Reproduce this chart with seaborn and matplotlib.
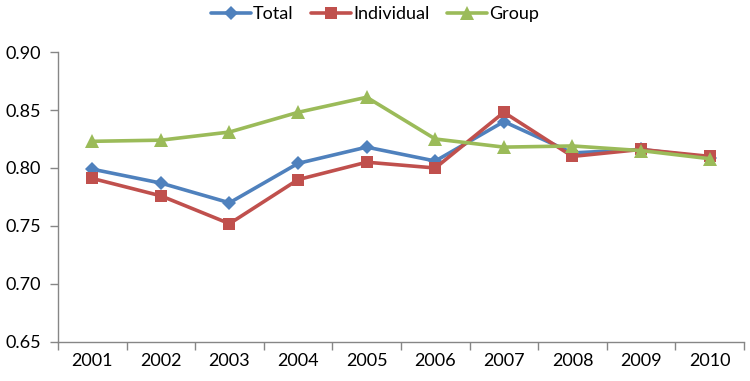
import pandas as pd
import matplotlib
matplotlib.use('Agg')
import matplotlib.pyplot as plt
import seaborn as sns

# data
years = ['2001', '2002', '2003', '2004', '2005', '2006', '2007', '2008', '2009', '2010']
total = [0.799, 0.787, 0.770, 0.804, 0.818, 0.806, 0.840, 0.813, 0.816, 0.809]
individual = [0.791, 0.776, 0.752, 0.790, 0.805, 0.800, 0.848, 0.810, 0.816, 0.810]
group = [0.823, 0.824, 0.831, 0.848, 0.861, 0.825, 0.818, 0.819, 0.815, 0.808]
y_ticks = [0.65, 0.70, 0.75, 0.80, 0.85, 0.90]

series = ['Total', 'Individual', 'Group']
colors = {'Total': '#4F81BD', 'Individual': '#C0504D', 'Group': '#9BBB59'}
markers = {'Total': 'D', 'Individual': 's', 'Group': '^'}
msizes = {'Total': 7.5, 'Individual': 8, 'Group': 9.5}

df = pd.DataFrame({'year': years * 3,
                   'value': total + individual + group,
                   'series': ['Total'] * 10 + ['Individual'] * 10 + ['Group'] * 10})

sns.set_style('white')
plt.rcParams['font.family'] = ['Lato', 'DejaVu Sans']
plt.rcParams['text.color'] = 'black'

fig = plt.figure(figsize=(7.5, 3.81), dpi=100)
ax = fig.add_axes([0.0773, 0.1024, 0.9147, 0.7611])

for s in series:
    sub = df[df['series'] == s]
    sns.lineplot(data=sub, x='year', y='value', ax=ax, color=colors[s],
                 marker=markers[s], markersize=msizes[s], markeredgewidth=0,
                 linewidth=2.6, label=s, sort=False)

ax.set_ylim(0.65, 0.90)
ax.set_yticks(y_ticks)
ax.set_yticklabels([f'{v:.2f}' for v in y_ticks], fontsize=13, color='black')
ax.set_xlim(-0.5, len(years) - 0.5)
ax.set_xticks([i - 0.5 for i in range(len(years) + 1)])
ax.set_xticklabels([])
ax.set_xticks(range(len(years)), minor=True)
ax.set_xticklabels(years, minor=True, fontsize=13, color='black')
ax.tick_params(axis='x', which='major', length=6, color='#868686', width=1, direction='out', bottom=True)
ax.tick_params(axis='x', which='minor', length=0, pad=8)
ax.tick_params(axis='y', length=6, color='#868686', width=1, direction='out', left=True, pad=6)
ax.set_xlabel('')
ax.set_ylabel('')
for side in ['top', 'right']:
    ax.spines[side].set_visible(False)
for side in ['left', 'bottom']:
    ax.spines[side].set_color('#868686')
    ax.spines[side].set_linewidth(1)

ax.legend_.remove()
handles, labels = ax.get_legend_handles_labels()
fig.legend(handles, labels, loc='center', bbox_to_anchor=(0.5, 0.962), ncol=3,
           frameon=False, fontsize=13, handlelength=2.2, handletextpad=0.1,
           columnspacing=1.0)

fig.savefig('out.png', dpi=100)
